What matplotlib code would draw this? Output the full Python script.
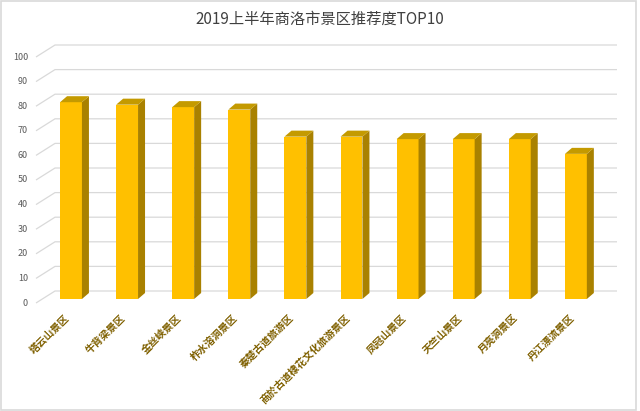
import matplotlib
matplotlib.use("Agg")
import matplotlib.pyplot as plt
from matplotlib.patches import Polygon, Rectangle

plt.rcParams['font.family'] = ['Noto Sans CJK SC', 'DejaVu Sans']

title = "2019上半年商洛市景区推荐度TOP10"
categories = ["塔云山景区", "牛背梁景区", "金丝峡景区", "柞水溶洞景区", "秦楚古道旅游区",
              "商於古道棣花文化旅游景区", "凤冠山景区", "天竺山景区", "月亮洞景区", "丹江漂流景区"]
values = [80, 79, 78, 77, 66, 66, 65, 65, 65, 59]
yticks = [0, 10, 20, 30, 40, 50, 60, 70, 80, 90, 100]

W, H = 640, 411
fig = plt.figure(figsize=(W / 100, H / 100), dpi=100)
ax = fig.add_axes([0, 0, 1, 1])
# pixel-derived mapping
px_x0, px_pitch = 71.0, 56.1
px_y0, px_unit = 299.0, 2.46
ax.set_xlim((0 - px_x0) / px_pitch, (W - px_x0) / px_pitch)
ax.set_ylim((px_y0 - H) / px_unit, px_y0 / px_unit)
ax.axis('off')

# depth offsets (data units)
front_off = (-6 / px_pitch, -4 / px_unit)
back_off = (13 / px_pitch, 8 / px_unit)
x_left = (42 - px_x0) / px_pitch
x_right = (604 - px_x0) / px_pitch

grid_c = '#d9d9d9'
for v in yticks:
    xs = [x_left + front_off[0], x_left + back_off[0], x_right + back_off[0]]
    ys = [v + front_off[1], v + back_off[1], v + back_off[1]]
    ax.plot(xs, ys, color=grid_c, lw=0.9, zorder=1, solid_capstyle='butt')
    ax.text((28 - px_x0) / px_pitch, v + front_off[1], str(v), ha='right', va='center',
            fontsize=6.5, color='#595959')

# bars
bw = 0.39
dx, dy = 7 / px_pitch, 6 / px_unit
xpos = list(range(len(values)))
ax.bar(xpos, values, width=bw, color='#FFC000', edgecolor='none', zorder=3)
for i, v in zip(xpos, values):
    r = i + bw / 2
    l = i - bw / 2
    side = Polygon([(r, 0), (r + dx, dy), (r + dx, v + dy), (r, v)], closed=True,
                   facecolor='#A98100', edgecolor='none', zorder=3)
    top = Polygon([(l, v), (r, v), (r + dx, v + dy), (l + dx, v + dy)], closed=True,
                  facecolor='#C49A00', edgecolor='none', zorder=3)
    ax.add_patch(side)
    ax.add_patch(top)

# category labels
for i, c in zip(xpos, categories):
    ax.text(i - 0.06, -7.0, c, rotation=45, rotation_mode='anchor', ha='right', va='center',
            fontsize=7.3, color='#7F6000', fontweight='bold')

fig.text(0.5, 1 - 19 / H, title, ha='center', va='center', fontsize=11, color='#404040')

fig.patches.append(Rectangle((0.5 / W, 1.5 / H), 1 - 5 / W, 1 - 3 / H, transform=fig.transFigure,
                             fill=False, edgecolor='#d9d9d9', lw=1.2))

fig.savefig('out.png', dpi=100, facecolor='white')
